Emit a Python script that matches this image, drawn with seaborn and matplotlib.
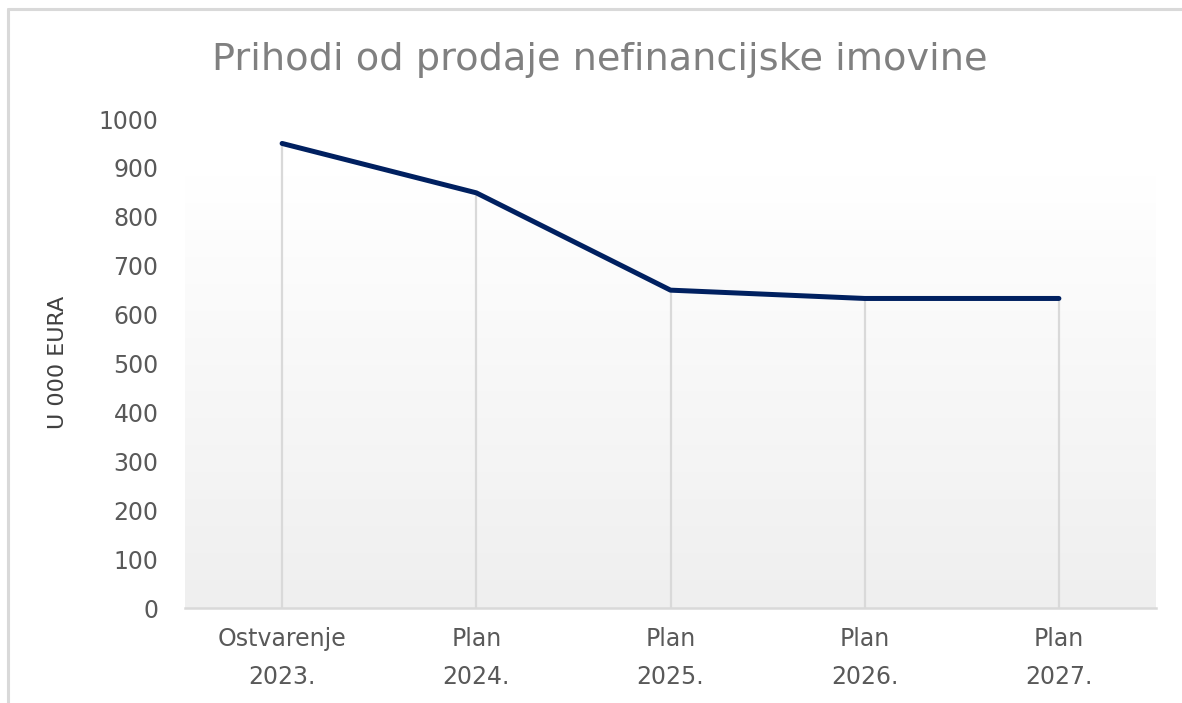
import numpy as np
import matplotlib
matplotlib.use("Agg")
import matplotlib.pyplot as plt
from matplotlib.lines import Line2D
from matplotlib.colors import LinearSegmentedColormap
import seaborn as sns

categories = ["Ostvarenje\n2023.", "Plan\n2024.", "Plan\n2025.", "Plan\n2026.", "Plan\n2027."]
values = [950, 849, 650, 633, 633]
yticks = [0, 100, 200, 300, 400, 500, 600, 700, 800, 900, 1000]
title = "Prihodi od prodaje nefinancijske imovine"
ylabel = "U 000 EURA"

sns.set_theme(style="white")
plt.rcParams["font.family"] = ["DejaVu Sans"]

W, H = 1182, 703
fig = plt.figure(figsize=(W / 100, H / 100), dpi=100)
fig.patch.set_facecolor("white")
ax = fig.add_axes([185 / W, 1 - 608 / H, (1156 - 185) / W, (608 - 119) / H])
ax.set_facecolor("white")

pos = np.arange(len(categories))
# gradient background (white at top, light gray at bottom)
grad = np.linspace(0, 1, 256).reshape(-1, 1)
cmap = LinearSegmentedColormap.from_list("g", ["#ffffff", "#efefef"])
ax.imshow(grad, cmap=cmap, aspect="auto", extent=(-0.5, len(categories) - 0.5, 0, 885),
          zorder=0, origin="upper")
ax.set_ylim(0, 1000)
ax.set_xlim(-0.5, len(categories) - 0.5)

ax.vlines(pos, 0, values, colors="#d9d9d9", linewidth=1.6, zorder=1)
sns.lineplot(x=pos, y=values, ax=ax, color="#002060", linewidth=3.6, zorder=3,
             solid_capstyle="round", solid_joinstyle="round")

ax.set_xticks(pos)
ax.set_xticklabels(categories, fontsize=17, color="#595959", linespacing=1.7)
ax.set_yticks(yticks)
ax.set_yticklabels([str(v) for v in yticks], fontsize=17, color="#595959")
ax.tick_params(axis="y", length=0, pad=19)
ax.tick_params(axis="x", length=0, pad=14)
ax.set_ylabel(ylabel, fontsize=16, color="#404040")
ax.yaxis.set_label_coords(-(185 - 68) / (1156 - 185), (608 - 362) / (608 - 119))

for s in ["top", "right", "left"]:
    ax.spines[s].set_visible(False)
ax.spines["bottom"].set_color("#d9d9d9")
ax.spines["bottom"].set_linewidth(1.8)
ax.spines["bottom"].set_zorder(2)
ax.grid(False)

fig.text(600 / W, 1 - 60 / H, title, ha="center", va="center", fontsize=27.5, color="#808080")

# outer border (top and left)
fig.add_artist(Line2D([8 / W, 1], [1 - 9 / H, 1 - 9 / H], color="#d9d9d9", linewidth=2.2))
fig.add_artist(Line2D([8 / W, 8 / W], [0, 1 - 9 / H], color="#d9d9d9", linewidth=2.2))

fig.savefig("out.png", dpi=100)
